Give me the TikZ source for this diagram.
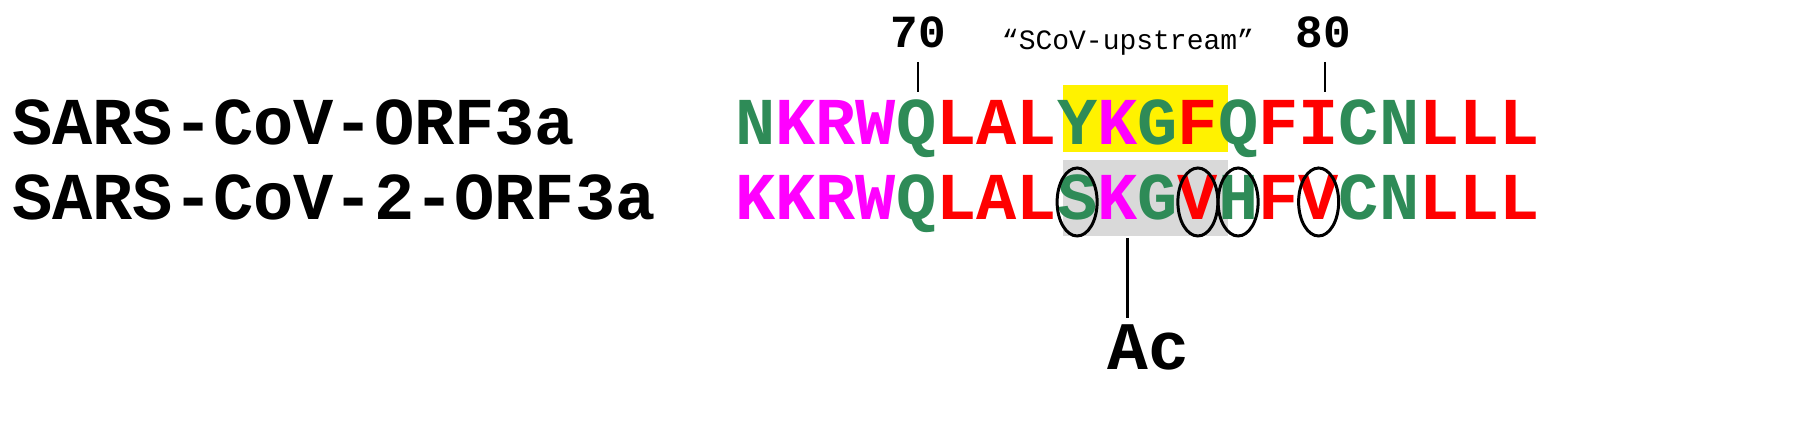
\documentclass[tikz,border=0pt]{standalone}
\usepackage{fontspec}
\setmainfont{Liberation Mono}
\usetikzlibrary{shapes.geometric}
\definecolor{sg}{RGB}{46,139,87}
\definecolor{mg}{RGB}{255,0,255}
\definecolor{rd}{RGB}{255,0,0}
\begin{document}
\begin{tikzpicture}[x=0.5pt,y=-0.5pt,
  res/.style={anchor=base,inner sep=0pt,font=\fontsize{33.5}{36}\selectfont\bfseries},
  lbl/.style={anchor=base west,inner sep=0pt,font=\fontsize{33.5}{36}\selectfont\bfseries},
  num/.style={anchor=base,inner sep=0pt,font=\fontsize{23}{26}\selectfont\bfseries},
  ring/.style={draw,line width=1.5pt,ellipse,minimum width=20pt,minimum height=34pt,inner sep=0pt}]
\useasboundingbox (0,0) rectangle (1796,421);
\fill[yellow] (1063,85) rectangle (1228,152);
\fill[black!15] (1063,160) rectangle (1228,236);
\node[lbl] (l1) at (12,145) {SARS-CoV-ORF3a};
\node[lbl] (l2) at (12,220) {SARS-CoV-2-ORF3a};
\foreach \ch/\c [count=\i from 0] in {N/sg,K/mg,R/mg,W/mg,Q/sg,L/rd,A/rd,L/rd,Y/sg,K/mg,G/sg,F/rd,Q/sg,F/rd,I/rd,C/sg,N/sg,L/rd,L/rd,L/rd}
  \node[res,text=\c] (a\i) at ({735+40.25*(\i+0.5)},145) {\ch};
\foreach \ch/\c [count=\i from 0] in {K/mg,K/mg,R/mg,W/mg,Q/sg,L/rd,A/rd,L/rd,S/sg,K/mg,G/sg,V/rd,H/sg,F/rd,V/rd,C/sg,N/sg,L/rd,L/rd,L/rd}
  \node[res,text=\c] (b\i) at ({735+40.25*(\i+0.5)},220) {\ch};
\foreach \i in {8,11,12,14}
  \node[ring] (r\i) at ([yshift=9pt]b\i.base) {};
\node[num] (n70) at (918,48) {70};
\node[num] (n80) at (1323,48) {80};
\draw[line width=1.2pt] (918,62) coordinate (t70a) -- (918,92) coordinate (t70b);
\draw[line width=1.2pt] (1325,62) coordinate (t80a) -- (1325,92) coordinate (t80b);
\node[anchor=base,inner sep=0pt,font=\fontsize{14}{16}\selectfont] (up) at (1128,50) {“SCoV-upstream”};
\node[anchor=base,inner sep=0pt,font=\fontsize{34}{36}\selectfont\bfseries] (ac) at (1148,370) {Ac};
\coordinate (kb) at (1127,238);
\draw[line width=1.5pt] (kb) -- (1127,318) coordinate (ke);
\end{tikzpicture}
\end{document}
